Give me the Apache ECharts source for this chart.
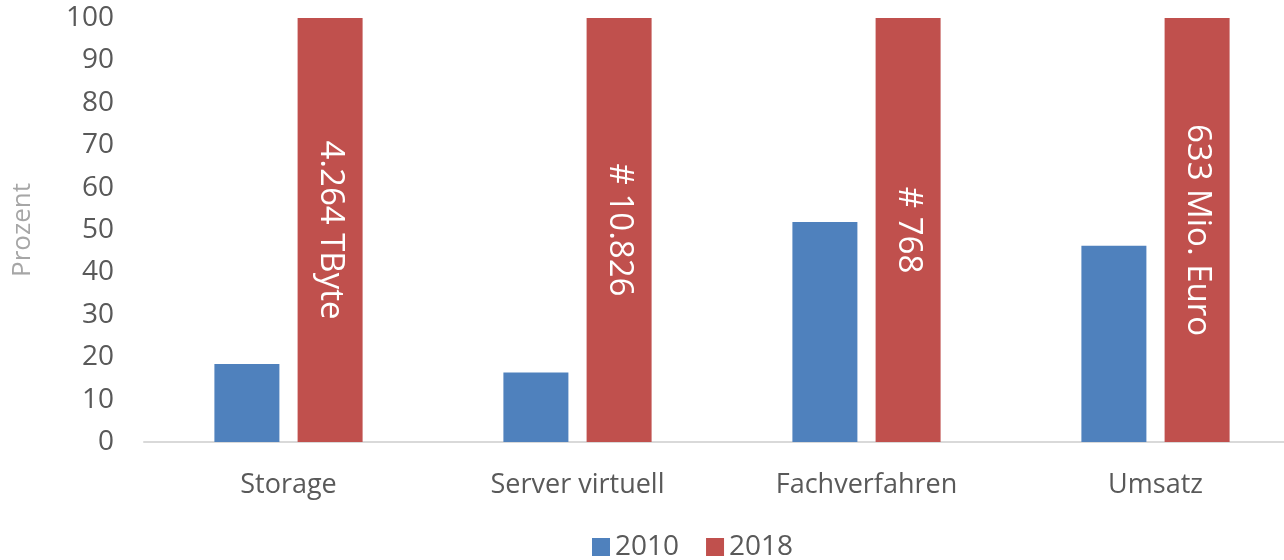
<!DOCTYPE html>
<html style="height: 100%">
<head>
    <meta charset="utf-8">
</head>
<body style="height: 100%; margin: 0; background: #fff; overflow: hidden">
    <!-- a little wider than the window: the plot's right end runs past the picture edge -->
    <div id="container" style="width: 1300px; height: 560px"></div>
    <script type="text/javascript" src="https://cdn.jsdelivr.net/npm/echarts@6/dist/echarts.min.js"></script>
    <script type="text/javascript">
        var categories = ['Storage', 'Server virtuell', 'Fachverfahren', 'Umsatz'];
        var values2010 = [18.4, 16.4, 51.9, 46.3];
        var values2018 = [100, 100, 100, 100];
        var labels2018 = ['4.264 TByte', '# 10.826', '# 768', '633 Mio. Euro'];
        var yTicks = { min: 0, max: 100, interval: 10 };

        var font = '"Open Sans", sans-serif';
        var myChart = echarts.init(document.getElementById('container'));

        var option = {
            animation: false,
            textStyle: { fontFamily: font },
            grid: { left: 144, right: 0, top: 18, bottom: 118 },
            legend: {
                top: 528,
                left: 587,
                itemWidth: 18,
                itemHeight: 18,
                itemGap: 27,
                icon: 'rect',
                textStyle: { fontSize: 28, color: '#595959', fontFamily: font },
                data: ['2010', '2018']
            },
            xAxis: {
                type: 'category',
                data: categories,
                axisLine: { lineStyle: { color: '#d9d9d9', width: 2 } },
                axisTick: { show: false },
                axisLabel: { fontSize: 27, color: '#595959', margin: 30, fontFamily: font }
            },
            yAxis: {
                type: 'value',
                min: yTicks.min,
                max: yTicks.max,
                interval: yTicks.interval,
                name: 'Prozent',
                nameLocation: 'middle',
                nameGap: 108,
                nameTextStyle: { fontSize: 26, color: '#a6a6a6', fontFamily: font },
                axisLine: { show: false },
                axisTick: { show: false },
                splitLine: { show: false },
                axisLabel: { fontSize: 28, color: '#595959', margin: 30, fontFamily: font }
            },
            series: [{
                name: '2010',
                type: 'bar',
                data: values2010,
                barWidth: 65,
                barGap: '28%',
                itemStyle: { color: '#4f81bd' }
            }, {
                name: '2018',
                type: 'bar',
                data: values2018,
                barWidth: 65,
                itemStyle: { color: '#c0504d' },
                label: {
                    show: true,
                    position: 'inside',
                    rotate: -90,
                    color: '#fff',
                    fontSize: 33,
                    fontFamily: font,
                    formatter: function (p) { return labels2018[p.dataIndex]; }
                }
            }]
        };
        myChart.setOption(option);
    </script>
</body>
</html>
